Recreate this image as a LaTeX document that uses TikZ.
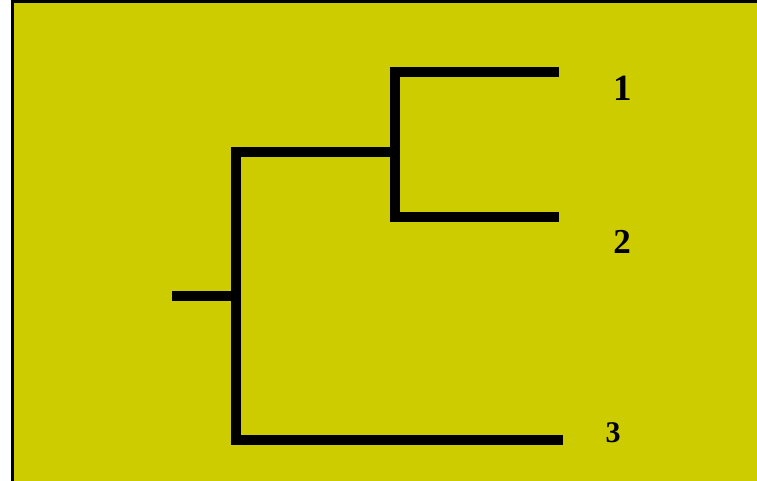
\documentclass[tikz,border=0pt]{standalone}
\usepackage{fontspec}
\setmainfont{Liberation Serif}
\usepackage{tikz}
\usetikzlibrary{positioning}
\definecolor{olive}{RGB}{204,204,0}

\tikzset{branch/.style={line width=10pt,black,line cap=butt,line join=miter},
  leaflabel/.style={font=\fontsize{37}{40}\selectfont\bfseries,inner sep=0pt}}

\begin{document}
\begin{tikzpicture}[x=1pt,y=-1pt]
\useasboundingbox (0,0) rectangle (757,481);
\clip (0,0) rectangle (757,481);
\fill[white] (0,0) rectangle (757,481);
\draw[fill=olive,line width=3pt] (12.5,2) rectangle (800,520);
% tree
\coordinate (root) at (172,296);
\coordinate (c0) at (236,296);
\coordinate (c1) at (395,152);
\coordinate (e1) at (559,72);
\coordinate (e2) at (559,217);
\coordinate (e3) at (563,440);
\draw[branch] (e1) -| (c1) |- (e2);
\draw[branch] (c1) -| (c0) |- (e3);
\draw[branch] (root) -- (c0);
% labels
\node[leaflabel] (l1) at (623,88) {1};
\node[leaflabel,font=\fontsize{35}{38}\selectfont\bfseries] (l2) at (622,242) {2};
\node[leaflabel,font=\fontsize{30}{33}\selectfont\bfseries] (l3) at (613,433) {3};
\end{tikzpicture}
\end{document}
